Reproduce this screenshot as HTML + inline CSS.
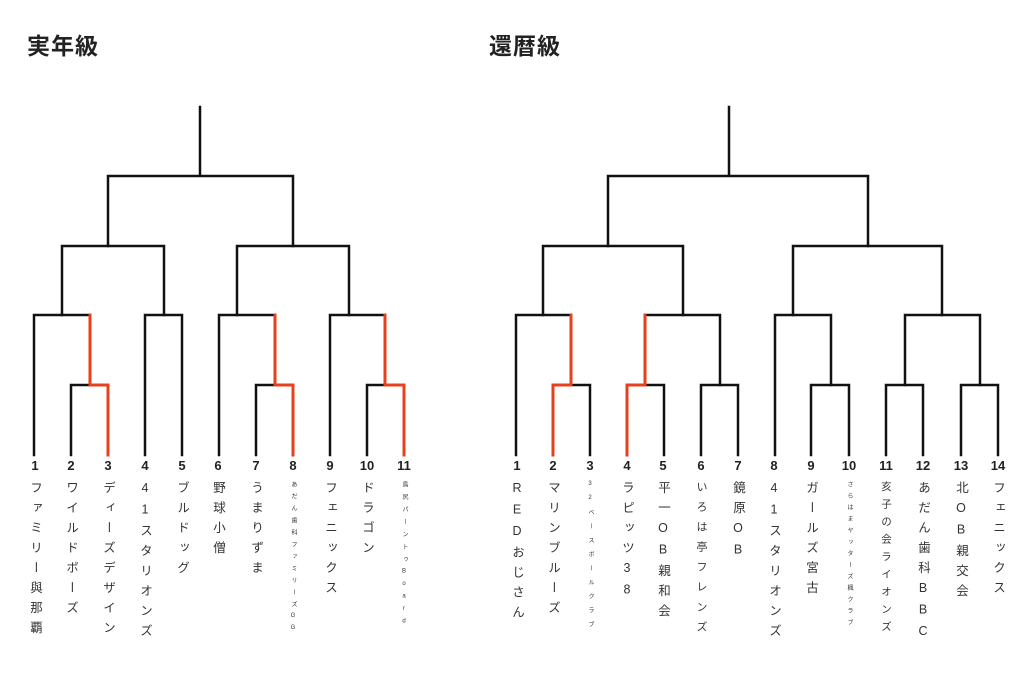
<!DOCTYPE html>
<html><head><meta charset="utf-8"><style>
body{margin:0;width:1024px;height:644px;background:#fff;position:relative;overflow:hidden;font-family:"Liberation Sans","Noto Sans CJK JP",sans-serif;color:#222}
.t{position:absolute;font-weight:bold;font-size:23px;top:27px;letter-spacing:1px}
.n{position:absolute;top:458px;width:30px;margin-left:-15px;text-align:center;font-weight:bold;font-size:13px}
.l{position:absolute;top:481px;height:200px;white-space:nowrap;writing-mode:vertical-rl;text-orientation:upright;font-size:12.5px;letter-spacing:7.5px;width:16px;margin-left:-8px;line-height:16px;color:#333}
.s{font-size:6px;letter-spacing:5px}
svg{position:absolute;left:0;top:0}
</style></head><body>
<div class="t" style="left:27px">実年級</div>
<div class="t" style="left:489px">還暦級</div>
<svg width="1024" height="644" fill="none" stroke-width="2.5" stroke-linecap="square">
<g stroke="#111">
<path d="M200 107V176M108 246V176H293V246"/>
<path d="M62 315V246H164V315M237 315V246H349V315"/>
<path d="M34 455V315H90M145 455V315H182V455M219 455V315H275M330 455V315H385"/>
<path d="M71 455V385H90"/>
<path d="M256 455V385H275"/>
<path d="M367 455V385H385"/>
<path d="M729 107V176M608 246V176H868V246"/>
<path d="M543 315V246H683V315M793 315V246H942V315"/>
<path d="M516 455V315H571M645 315H720V385M775 455V315H831V385M905 385V315H980V385"/>
<path d="M571 385H590V455M645 385H664V455M701 455V385H738V455M811 455V385H849V455M886 455V385H923V455M961 455V385H998V455"/>
</g>
<g stroke="#e8401f" stroke-width="3">
<path d="M90 315V385H108V455"/>
<path d="M275 315V385H293V455"/>
<path d="M385 315V385H404V455"/>
<path d="M571 315V385H553V455"/>
<path d="M645 315V385H627V455"/>
</g>
</svg>
<div class="n" style="left:35px">1</div><div class="n" style="left:71px">2</div><div class="n" style="left:108px">3</div><div class="n" style="left:145px">4</div><div class="n" style="left:182px">5</div><div class="n" style="left:218px">6</div><div class="n" style="left:256px">7</div><div class="n" style="left:293px">8</div><div class="n" style="left:330px">9</div><div class="n" style="left:367px">10</div><div class="n" style="left:404px">11</div>
<div class="l" style="left:35px">ファミリー與那覇</div>
<div class="l" style="left:71px">ワイルドボーズ</div>
<div class="l" style="left:108px">ディーズデザイン</div>
<div class="l" style="left:145px">41スタリオンズ</div>
<div class="l" style="left:182px">ブルドッグ</div>
<div class="l" style="left:218px">野球小僧</div>
<div class="l" style="left:256px">うまりずま</div>
<div class="l s" style="left:293px;letter-spacing:6px">あだん歯科ファミリーズGG</div>
<div class="l" style="left:330px">フェニックス</div>
<div class="l" style="left:367px">ドラゴン</div>
<div class="l s" style="left:404px;letter-spacing:6.5px">鳥尻パーントゥBoard</div>
<div class="n" style="left:517px">1</div><div class="n" style="left:553px">2</div><div class="n" style="left:590px">3</div><div class="n" style="left:627px">4</div><div class="n" style="left:663px">5</div><div class="n" style="left:701px">6</div><div class="n" style="left:738px">7</div><div class="n" style="left:774px">8</div><div class="n" style="left:811px">9</div><div class="n" style="left:849px">10</div><div class="n" style="left:886px">11</div><div class="n" style="left:923px">12</div><div class="n" style="left:961px">13</div><div class="n" style="left:998px">14</div>
<div class="l" style="left:517px">REDおじさん</div>
<div class="l" style="left:553px">マリンブルーズ</div>
<div class="l s" style="left:590px;letter-spacing:8px">32ベースボールクラブ</div>
<div class="l" style="left:627px">ラピッツ38</div>
<div class="l" style="left:663px">平一OB親和会</div>
<div class="l" style="left:701px;font-size:11px;letter-spacing:9px">いろは亭フレンズ</div>
<div class="l" style="left:738px">鏡原OB</div>
<div class="l" style="left:774px">41スタリオンズ</div>
<div class="l" style="left:811px">ガールズ宮古</div>
<div class="l s" style="left:849px;letter-spacing:5.5px">さらはまヤッターズ楓クラブ</div>
<div class="l" style="left:886px;font-size:10.5px;letter-spacing:7px">亥子の会ライオンズ</div>
<div class="l" style="left:923px">あだん歯科BBC</div>
<div class="l" style="left:961px">北OB親交会</div>
<div class="l" style="left:998px">フェニックス</div>
</body></html>
